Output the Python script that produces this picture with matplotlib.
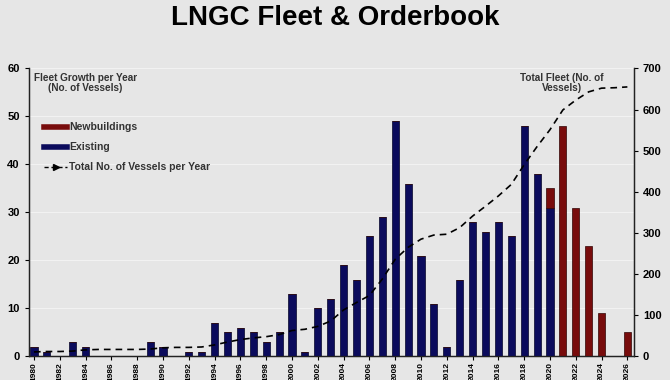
import numpy as np
import matplotlib.pyplot as plt
from matplotlib.lines import Line2D

plt.rcParams['font.family'] = ['Liberation Sans', 'DejaVu Sans']

# -----------------------------
# data
# -----------------------------
years = list(range(1980, 2027))

existing = [2, 1, 0, 3, 2, 0, 0, 0, 0, 3,
            2, 0, 1, 1, 7, 5, 6, 5, 3, 5,
            13, 1, 10, 12, 19, 16, 25, 29, 49, 36,
            21, 11, 2, 16, 28, 26, 28, 25, 48, 38,
            31, 0, 0, 0, 0, 0, 0]

newbuildings = [0, 0, 0, 0, 0, 0, 0, 0, 0, 0,
                0, 0, 0, 0, 0, 0, 0, 0, 0, 0,
                0, 0, 0, 0, 0, 0, 0, 0, 0, 0,
                0, 0, 0, 0, 0, 0, 0, 0, 0, 0,
                4, 48, 31, 23, 9, 0, 5]

total_fleet = [11, 12, 12, 13, 16, 17, 17, 17, 17, 18,
               21, 22, 22, 23, 28, 35, 41, 45, 48, 53,
               63, 66, 73, 86, 113, 131, 148, 188, 236, 265,
               285, 295, 297, 313, 341, 365, 390, 418, 466, 510,
               551, 599, 623, 643, 652, 653, 655]

xtick_years = list(range(1980, 2027, 2))

BG = "#e6e6e6"
NAVY = "#0b0b5c"
DARKRED = "#780c0c"

fig = plt.figure(figsize=(6.7, 3.8), dpi=100, facecolor=BG)
ax = fig.add_axes([0.043, 0.062, 0.903, 0.758], facecolor=BG)
ax2 = ax.twinx()

# -----------------------------
# bars
# -----------------------------
ax.bar(years, existing, width=0.55, color=NAVY, edgecolor="#05052a", linewidth=0.5, zorder=3)
ax.bar(years, newbuildings, width=0.55, bottom=existing, color=DARKRED,
       edgecolor="#300505", linewidth=0.5, zorder=3)

ax.set_ylim(0, 60)
ax.set_yticks(range(0, 61, 10))
ax.set_xlim(1979.6, 2026.5)
ax.set_xticks(xtick_years)
ax.set_xticklabels([str(y) for y in xtick_years], rotation=90, fontsize=6, fontweight="bold")
ax.tick_params(axis="y", labelsize=8, length=3)
for lab in ax.get_yticklabels():
    lab.set_fontweight("bold")
ax.tick_params(axis="x", length=3, pad=1)
ax.yaxis.grid(True, color="#f2f2f2", linewidth=0.8, zorder=0)
ax.set_axisbelow(True)

# -----------------------------
# total fleet line (right axis)
# -----------------------------
ax2.plot(years, total_fleet, color="black", linestyle=(0, (4, 3)), linewidth=1.2, zorder=4)
ax2.annotate("", xy=(years[-1] + 0.6, total_fleet[-1]), xytext=(years[-1], total_fleet[-1]),
             arrowprops=dict(arrowstyle="-|>", color="black", lw=1.2, mutation_scale=8))
ax2.set_ylim(0, 700)
ax2.set_yticks(range(0, 701, 100))
ax2.tick_params(axis="y", labelsize=8, length=3)
for lab in ax2.get_yticklabels():
    lab.set_fontweight("bold")

for a in (ax, ax2):
    a.spines["top"].set_visible(False)
    for s in ("left", "right", "bottom"):
        a.spines[s].set_color("#222222")
        a.spines[s].set_linewidth(0.9)

# -----------------------------
# text
# -----------------------------
fig.text(0.5, 0.953, "LNGC Fleet & Orderbook", ha="center", va="center",
         fontsize=20, fontweight="bold")
ax.text(0.093, 0.985, "Fleet Growth per Year\n(No. of Vessels)", transform=ax.transAxes,
        ha="center", va="top", fontsize=7.2, fontweight="bold", color="#333333",
        linespacing=1.0, zorder=5)
ax2.text(0.881, 0.985, "Total Fleet (No. of\nVessels)", transform=ax2.transAxes,
         ha="center", va="top", fontsize=7.2, fontweight="bold", color="#333333",
         linespacing=1.0)

handles = [
    Line2D([0], [0], color=DARKRED, lw=4),
    Line2D([0], [0], color=NAVY, lw=4),
    Line2D([0], [0], color="black", lw=1, ls=(0, (3, 2)), marker=">", markersize=4),
]
ax.legend(handles, ["Newbuildings", "Existing", "Total No. of Vessels per Year"],
          loc="upper left", bbox_to_anchor=(0.01, 0.845), frameon=False,
          prop=dict(size=7.5, weight="bold"), handlelength=2.2, handletextpad=0.2,
          labelspacing=0.95, labelcolor="#333333")

fig.savefig("out.png", dpi=100, facecolor=BG)
